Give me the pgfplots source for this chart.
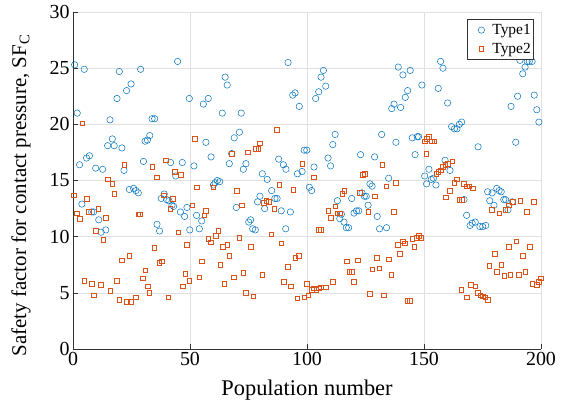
\documentclass[border=0pt]{standalone}
\usepackage{fontspec}
\setmainfont{Liberation Serif}
\usepackage{pgfplots}
\pgfplotsset{compat=1.18}
\definecolor{mblue}{rgb}{0,0.447,0.741}
\definecolor{morange}{rgb}{0.85,0.325,0.098}
\begin{document}
\begin{tikzpicture}
\useasboundingbox (-73bp,-55bp) rectangle (492bp,349bp);
\begin{axis}[
  scale only axis, width=468bp, height=337bp,
  xmin=0, xmax=200, ymin=0, ymax=30,
  xtick={0,50,...,200}, ytick={0,5,...,30},
  axis x line*=bottom, axis y line*=left,
  axis line style={black!80, line width=0.6bp},
  tick align=inside, major tick length=5bp,
  tick style={black!80, line width=0.6bp},
  grid=major, grid style={black!12, line width=0.5bp},
  /pgf/number format/assume math mode=true,
  ticklabel style={font=\fontsize{20}{20}\selectfont},
  xlabel={Population number},
  xlabel style={yshift=-7bp, font=\fontsize{22.5}{22.5}\selectfont},
  ylabel={Safety factor for contact pressure, SF\textsubscript{C}},
  ylabel style={yshift=12bp, xshift=-15bp, font=\fontsize{21}{21}\selectfont},
  legend image code/.code={
    \path[draw=none, fill=none] (0bp,-4bp) rectangle (23bp,4bp);
    \draw[#1] plot coordinates {(14bp,0bp)};},
  legend style={at={(rel axis cs:1,1)}, anchor=north east, xshift=-8bp, yshift=-7bp,
    draw=black!80, line width=0.5bp, font=\fontsize{15.5}{17}\selectfont,
    inner xsep=0bp, inner ysep=3bp, row sep=3bp, cells={anchor=west}},
  legend cell align=left,
]
\addplot[only marks, mark=o, mark size=3.2bp, mark options={draw=mblue, line width=0.5bp}] coordinates {
(0.7,25.3)(1.8,21.0)(2.8,16.4)(3.8,12.9)(4.8,24.9)(5.8,17.0)(7.0,17.2)(8.0,12.2)(8.8,12.2)(9.7,16.1)
(11.0,11.5)(12.0,10.4)(12.7,16.0)(14.0,10.6)(14.8,18.1)(15.8,20.4)(16.8,18.7)(17.6,18.1)(18.8,22.3)(19.8,24.7)
(20.9,17.9)(21.8,15.9)(22.9,23.0)(24.1,14.2)(24.8,23.6)(25.9,14.3)(26.9,14.1)(27.9,13.9)(28.9,24.9)(30.1,16.7)
(30.8,18.5)(31.8,18.6)(32.8,19.0)(33.8,20.5)(34.9,20.5)(35.9,11.1)(37.0,10.5)(37.7,13.4)(39.0,13.8)(40.0,13.3)
(41.0,13.2)(41.7,16.6)(42.3,12.8)(43.0,12.7)(43.9,15.4)(44.7,25.6)(45.9,12.2)(46.7,16.6)(47.7,11.8)(48.7,12.6)
(49.7,22.3)(49.9,10.6)(51.7,16.3)(52.8,11.9)(54.0,10.7)(55.0,11.4)(55.7,21.8)(56.8,18.4)(57.8,22.3)(59.0,17.1)
(60.0,14.6)(60.7,14.8)(61.7,15.0)(62.7,14.9)(63.8,21.0)(65.0,24.2)(65.9,23.5)(66.8,16.5)(67.8,17.4)(68.9,18.8)
(69.8,12.6)(71.1,19.3)(71.9,21.0)(72.8,16.0)(73.9,16.5)(75.1,11.3)(75.9,11.5)(76.8,10.7)(77.9,10.6)(78.9,13.1)
(79.9,13.6)(80.9,15.6)(81.9,12.5)(83.0,15.1)(84.9,14.1)(86.3,13.4)(87.2,13.4)(87.9,16.9)(89.0,12.3)(89.9,16.4)
(90.9,10.7)(91.0,16.0)(91.9,25.5)(92.9,12.2)(93.9,22.6)(94.9,22.8)(95.9,15.6)(96.7,21.6)(97.9,15.8)(98.8,17.7)
(99.9,17.7)(101.0,14.4)(102.0,14.1)(103.0,16.2)(103.7,22.3)(105.0,22.9)(106.0,24.2)(107.0,24.8)(108.0,23.4)(109.0,17.0)
(110.1,16.3)(111.0,18.2)(112.0,19.1)(113.0,13.2)(114.0,11.6)(114.7,12.0)(115.8,11.3)(116.8,10.8)(117.8,10.8)(119.1,13.4)
(120.1,12.1)(121.2,12.3)(122.1,12.3)(122.9,17.3)(123.5,13.9)(124.5,13.6)(125.3,13.6)(126.1,12.8)(126.9,14.7)(127.8,14.5)
(128.9,17.1)(130.0,11.8)(131.0,10.7)(131.9,19.1)(134.0,10.8)(134.9,15.2)(136.2,21.4)(137.2,21.8)(138.0,18.4)(139.0,25.1)
(140.0,21.5)(141.0,24.4)(142.0,22.4)(143.0,23.0)(144.1,24.8)(145.0,18.8)(146.2,17.3)(147.1,18.9)(147.7,18.9)(149.1,23.5)
(150.3,15.4)(151.1,14.7)(152.1,16.0)(153.1,15.1)(154.0,15.2)(155.1,14.6)(156.1,23.2)(157.1,25.6)(158.1,25.0)(159.0,16.8)
(160.1,21.9)(161.1,15.9)(161.8,19.8)(163.0,19.6)(164.1,19.6)(165.1,20.0)(166.1,20.2)(167.1,13.3)(168.2,11.9)(169.7,11.0)
(170.6,11.2)(171.9,11.3)(173.1,18.0)(173.9,10.9)(175.1,10.9)(176.4,11.0)(177.2,14.0)(178.1,13.2)(179.1,13.9)(179.9,12.8)
(181.1,14.3)(182.1,14.1)(183.0,14.0)(184.1,13.3)(184.9,13.3)(185.9,12.4)(187.2,21.6)(187.7,13.1)(189.2,18.4)(190.0,22.5)
(191.0,25.7)(192.2,24.5)(193.2,25.1)(194.1,25.6)(195.0,25.6)(196.2,25.6)(197.1,22.6)(198.2,21.3)(199.1,20.2)(200.3,11.0)
};
\addlegendentry{Type1}
\addplot[only marks, mark=square, mark size=2.3bp, mark options={draw=morange, line width=0.5bp}] coordinates {
(0.4,13.7)(1.6,12.1)(2.8,11.6)(3.9,20.1)(4.8,6.1)(5.8,13.4)(6.8,12.2)(8.0,5.8)(8.8,4.8)(9.7,10.5)
(10.8,12.5)(11.8,5.7)(13.0,9.7)(14.0,11.7)(14.8,15.1)(15.9,5.2)(16.7,14.7)(17.7,13.8)(18.8,6.1)(19.8,4.4)
(20.8,7.9)(21.9,16.4)(22.9,4.2)(24.1,8.3)(24.8,4.2)(26.8,4.6)(27.8,12.0)(28.6,12.0)(29.9,6.3)(30.9,7.0)
(31.9,5.6)(32.6,5.0)(33.8,16.2)(34.7,9.0)(35.8,15.3)(36.8,7.7)(37.9,7.8)(38.8,13.7)(39.7,16.8)(40.7,4.6)
(41.6,12.5)(42.6,13.4)(43.6,15.8)(45.0,10.4)(46.0,15.5)(46.9,5.6)(47.9,6.7)(48.7,9.3)(49.7,6.1)(51.0,12.8)
(52.0,18.7)(52.9,14.4)(54.0,6.4)(55.1,7.8)(56.1,11.9)(56.8,12.3)(57.8,9.8)(58.8,9.5)(60.0,14.4)(61.1,10.1)
(62.0,10.5)(62.9,7.5)(64.0,9.1)(64.7,5.8)(65.9,9.3)(66.8,8.3)(67.9,17.4)(68.8,6.4)(69.9,14.1)(71.1,9.9)
(72.2,12.8)(72.8,6.8)(73.9,5.0)(74.8,17.5)(75.9,9.1)(77.1,4.7)(78.2,17.8)(79.1,17.8)(79.9,18.3)(80.8,6.6)
(81.6,13.0)(82.6,13.2)(83.6,13.1)(84.7,10.2)(86.0,12.5)(87.1,19.5)(88.2,14.6)(89.0,9.4)(90.0,6.0)(91.9,7.3)
(93.0,5.6)(94.2,14.2)(94.9,8.1)(95.9,4.5)(96.6,8.3)(97.9,16.5)(98.8,4.6)(99.9,5.8)(100.6,4.8)(102.0,5.3)
(103.0,5.4)(103.0,15.3)(104.0,5.3)(105.0,5.4)(105.1,10.6)(106.0,10.6)(106.0,5.5)(108.0,5.5)(109.0,12.3)(110.1,11.7)
(111.0,6.0)(112.0,12.7)(113.0,12.1)(114.0,12.1)(115.0,13.8)(116.0,14.1)(117.1,7.8)(118.1,6.9)(119.1,6.9)(120.1,6.0)
(121.8,7.9)(122.6,13.9)(123.8,15.5)(124.8,15.6)(126.1,12.2)(126.9,4.9)(127.9,7.1)(128.9,13.6)(129.9,8.1)(130.9,7.2)
(132.1,16.4)(132.9,4.8)(133.9,14.5)(135.0,8.0)(136.0,6.6)(137.1,12.2)(138.0,14.8)(138.9,9.3)(139.7,8.5)(140.9,9.6)
(141.9,9.4)(142.9,4.3)(143.9,4.3)(144.9,9.8)(145.9,9.1)(146.9,9.9)(147.7,10.1)(148.6,9.9)(150.3,18.5)(150.9,17.4)
(151.1,18.7)(152.1,18.9)(153.4,18.5)(154.3,18.5)(155.3,15.6)(156.1,15.8)(157.1,15.9)(158.1,16.2)(159.1,16.4)(159.3,13.5)
(160.1,16.5)(161.1,14.1)(162.1,16.7)(163.0,14.8)(164.1,15.1)(165.1,13.3)(166.0,5.3)(166.2,13.3)(167.1,14.7)(168.2,14.5)
(168.2,4.6)(169.4,14.5)(170.1,5.7)(170.8,14.3)(171.9,5.6)(172.9,5.0)(174.1,4.8)(175.1,4.7)(176.1,4.6)(177.2,4.4)
(177.8,7.4)(178.9,12.4)(180.2,8.5)(181.1,6.9)(182.2,12.1)(183.0,7.5)(184.3,6.5)(184.7,12.4)(186.2,9.1)(186.2,12.8)
(186.9,6.6)(188.0,13.1)(189.4,9.6)(190.6,6.6)(191.2,13.2)(192.2,8.3)(193.3,6.9)(193.9,12.2)(195.2,9.1)(196.2,5.8)
(197.0,13.1)(198.2,5.7)(199.1,6.0)(200.0,6.3)
};
\addlegendentry{Type2}
\end{axis}
\end{tikzpicture}
\end{document}
